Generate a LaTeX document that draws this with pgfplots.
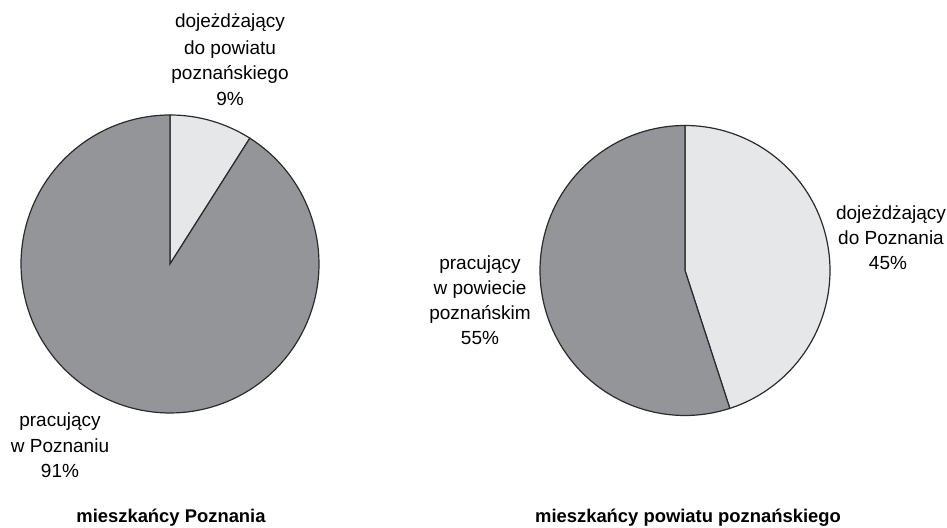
\documentclass[border=0pt]{standalone}
\usepackage{fontspec}
\setmainfont{Liberation Sans}
\usepackage{pgfplots}
\pgfplotsset{compat=1.18}
\definecolor{ciemny}{HTML}{939598}
\definecolor{jasny}{HTML}{E6E7E8}
\definecolor{obrys}{HTML}{2B2B2B}
% shares (percent) of the light slice in each pie
\def\dojPoz{9}
\def\dojPow{45}
\tikzset{
  lab/.style={anchor=base,inner sep=0pt,font=\fontsize{9.5}{13}\selectfont},
  tyt/.style={anchor=base,inner sep=0pt,font=\fontsize{9.2}{13}\selectfont\bfseries},
}
\begin{document}
\begin{tikzpicture}
\begin{axis}[width=473.5pt,height=264pt,scale only axis,hide axis,clip=false,
  xmin=0,xmax=947,ymin=0,ymax=528]
\path (rel axis cs:0,0) rectangle (rel axis cs:1,1);
% mieszkancy Poznania
\addplot[fill=jasny,draw=obrys,line width=0.6pt,samples=40,domain={90-3.6*\dojPoz}:90]
  ({170+149*cos(x)},{264+149*sin(x)}) -- (axis cs:170,264) -- cycle;
\addplot[fill=ciemny,draw=obrys,line width=0.6pt,samples=150,domain=-270:{90-3.6*\dojPoz}]
  ({170+149*cos(x)},{264+149*sin(x)}) -- (axis cs:170,264) -- cycle;
% mieszkancy powiatu
\addplot[fill=jasny,draw=obrys,line width=0.6pt,samples=80,domain={90-3.6*\dojPow}:90]
  ({685+145*cos(x)},{257.5+145*sin(x)}) -- (axis cs:685,257.5) -- cycle;
\addplot[fill=ciemny,draw=obrys,line width=0.6pt,samples=100,domain=-270:{90-3.6*\dojPow}]
  ({685+145*cos(x)},{257.5+145*sin(x)}) -- (axis cs:685,257.5) -- cycle;
% labels
\node[lab] at (axis cs:230,500) {dojeżdżający};
\node[lab] at (axis cs:230,473) {do powiatu};
\node[lab] at (axis cs:230,448) {poznańskiego};
\node[lab] at (axis cs:230,422) {9\%};
\node[lab] at (axis cs:60,101) {pracujący};
\node[lab] at (axis cs:60,75) {w Poznaniu};
\node[lab] at (axis cs:60,50) {91\%};
\node[lab] at (axis cs:480,258) {pracujący};
\node[lab] at (axis cs:480,233) {w powiecie};
\node[lab] at (axis cs:480,208) {poznańskim};
\node[lab] at (axis cs:480,183) {55\%};
\node[lab] at (axis cs:891,308) {dojeżdżający};
\node[lab] at (axis cs:891,283) {do Poznania};
\node[lab] at (axis cs:888,258) {45\%};
\node[tyt] at (axis cs:171,5) {mieszkańcy Poznania};
\node[tyt] at (axis cs:688,5) {mieszkańcy powiatu poznańskiego};
\end{axis}
\end{tikzpicture}
\end{document}
